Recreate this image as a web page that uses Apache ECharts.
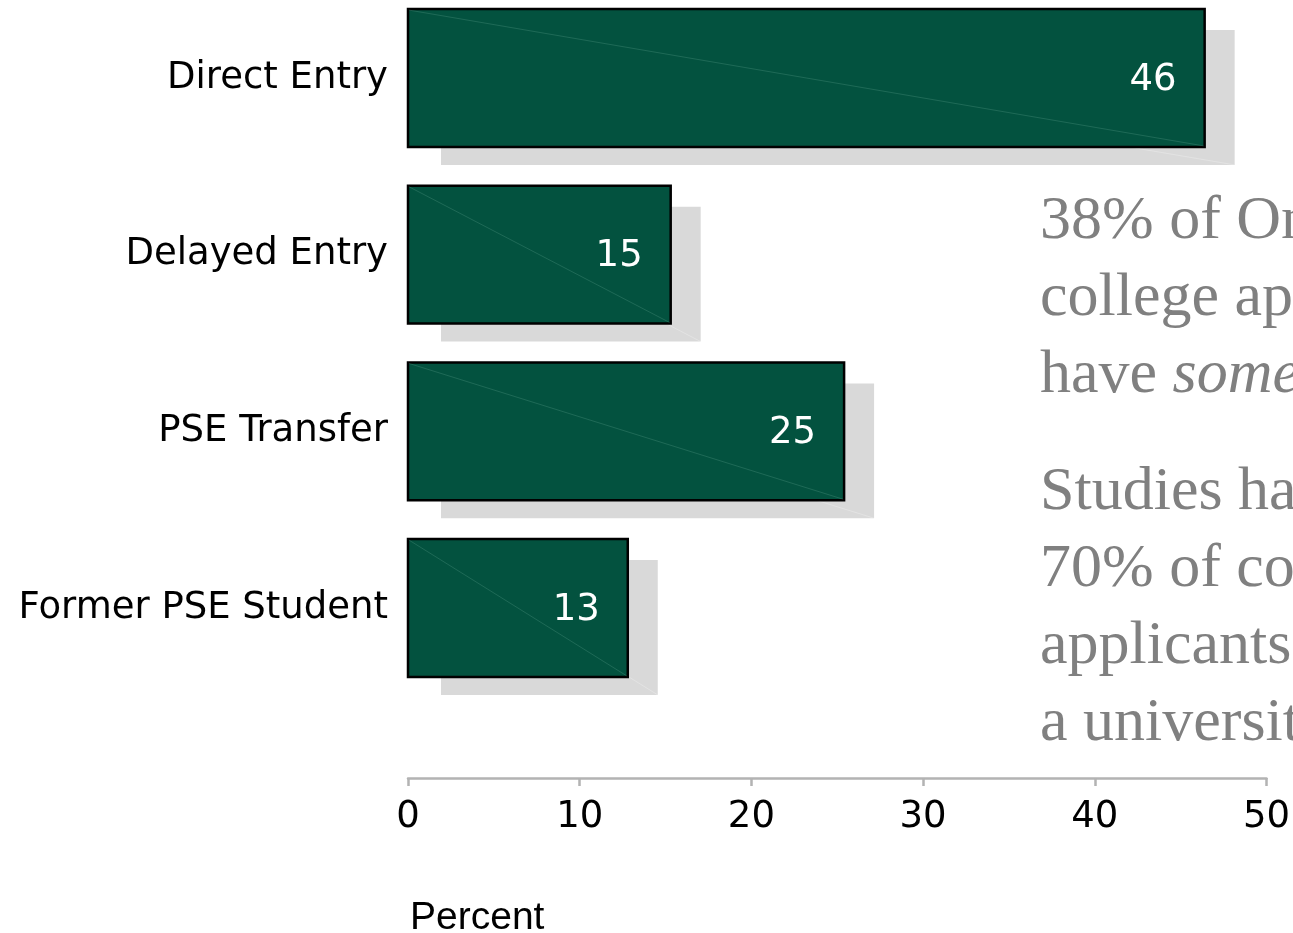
<!DOCTYPE html>
<html>
<head>
<meta charset="utf-8">
<title>Applicant types</title>
<script src="https://cdn.jsdelivr.net/npm/echarts@6/dist/echarts.min.js"></script>
<style>
  html, body { margin: 0; padding: 0; background: #ffffff; }
  #chart { width: 1293px; height: 933px; }
</style>
</head>
<body>
<div id="chart"></div>
<script>
// Applicant categories, top to bottom
const categories = ['Direct Entry', 'Delayed Entry', 'PSE Transfer', 'Former PSE Student'];
// Share of applicants, percent
const percentValues = [46.4, 15.3, 25.4, 12.8];
// Percent axis ticks
const axisTicks = [0, 10, 20, 30, 40, 50];

// Side note text, one entry per line; italic words marked with {i|...}
const noteLines = [
  '38% of Ontario',
  'college applicants',
  'have {i|some} PSE experience'
];
const studyLines = [
  'Studies have shown',
  '70% of college',
  'applicants apply to',
  'a university'
];

const BAR_FILL = '#03523f';
const SHADOW_FILL = '#d9d9d9';

const chart = echarts.init(document.getElementById('chart'), null, { renderer: 'canvas' });

function renderBar(params, api) {
  const ci = api.value(1);
  const v = api.value(0);
  const start = api.coord([0, ci]);
  const end = api.coord([v, ci]);
  // distance between neighbouring category rows
  const band = Math.abs(api.coord([0, 1])[1] - api.coord([0, 0])[1]);
  const h = band * 0.78;
  const x0 = start[0];
  const x1 = end[0];
  const y0 = start[1] - h / 2;
  const y1 = y0 + h;
  const w = x1 - x0;
  return {
    type: 'group',
    children: [
      {
        type: 'rect',
        shape: { x: x0 + 33, y: y0 + 21, width: w - 3, height: h - 3 },
        style: { fill: SHADOW_FILL }
      },
      {
        type: 'line',
        shape: { x1: x0 + 33, y1: y0 + 21, x2: x1 + 30, y2: y1 + 18 },
        style: { stroke: 'rgba(255,255,255,0.5)', lineWidth: 0.5 }
      },
      {
        type: 'rect',
        shape: { x: x0, y: y0, width: w, height: h },
        style: { fill: BAR_FILL, stroke: '#000000', lineWidth: 2.5 }
      },
      {
        type: 'line',
        shape: { x1: x0 + 1, y1: y0 + 1, x2: x1 - 1, y2: y1 - 1 },
        style: { stroke: 'rgba(140,200,180,0.4)', lineWidth: 0.5 }
      },
      {
        type: 'text',
        x: x1 - 28,
        y: start[1] + 2,
        style: {
          text: String(Math.round(v)),
          fill: '#ffffff',
          font: '37px "DejaVu Sans"',
          align: 'right',
          verticalAlign: 'middle'
        }
      }
    ]
  };
}

const noteFont = '62px "Liberation Serif"';
const noteStyle = {
  fill: '#808080',
  font: noteFont,
  rich: { i: { fontStyle: 'italic', fontFamily: 'Liberation Serif', fontSize: 62, fill: '#808080' } }
};
const noteGraphics = [];
const lineGap = 77;
noteLines.forEach((t, k) => {
  noteGraphics.push({
    type: 'text', left: 1040, top: 191 + k * lineGap,
    style: Object.assign({ text: t }, noteStyle)
  });
});
studyLines.forEach((t, k) => {
  noteGraphics.push({
    type: 'text', left: 1040, top: 462 + k * lineGap,
    style: Object.assign({ text: t }, noteStyle)
  });
});
noteGraphics.push({
  type: 'text', left: 410, top: 899,
  style: { text: 'Percent', fill: '#000000', font: '39px "Liberation Sans"' }
});

chart.setOption({
  animation: false,
  backgroundColor: '#ffffff',
  // category rows sit on the grid edges: first row at the top, last row at the bottom
  grid: { left: 408, right: 26, top: 78, bottom: 325, containLabel: false },
  xAxis: {
    type: 'value',
    min: axisTicks[0],
    max: axisTicks[axisTicks.length - 1],
    interval: axisTicks[1] - axisTicks[0],
    offset: 170,
    axisLine: { show: true, lineStyle: { color: '#b3b3b3', width: 2.5 } },
    axisTick: { show: true, length: 8, lineStyle: { color: '#b3b3b3', width: 2.5 } },
    splitLine: { show: false },
    axisLabel: { color: '#000000', fontFamily: 'DejaVu Sans', fontSize: 37, margin: 21 }
  },
  yAxis: {
    type: 'category',
    data: categories,
    inverse: true,
    boundaryGap: false,
    axisLine: { show: false },
    axisTick: { show: false },
    splitLine: { show: false },
    axisLabel: { color: '#000000', fontFamily: 'DejaVu Sans', fontSize: 37, margin: 20, padding: [4, 0, 0, 0] }
  },
  series: [{
    type: 'custom',
    renderItem: renderBar,
    encode: { x: 0, y: 1 },
    data: percentValues.map((v, i) => [v, i]),
    clip: false
  }],
  graphic: noteGraphics
});
</script>
</body>
</html>
